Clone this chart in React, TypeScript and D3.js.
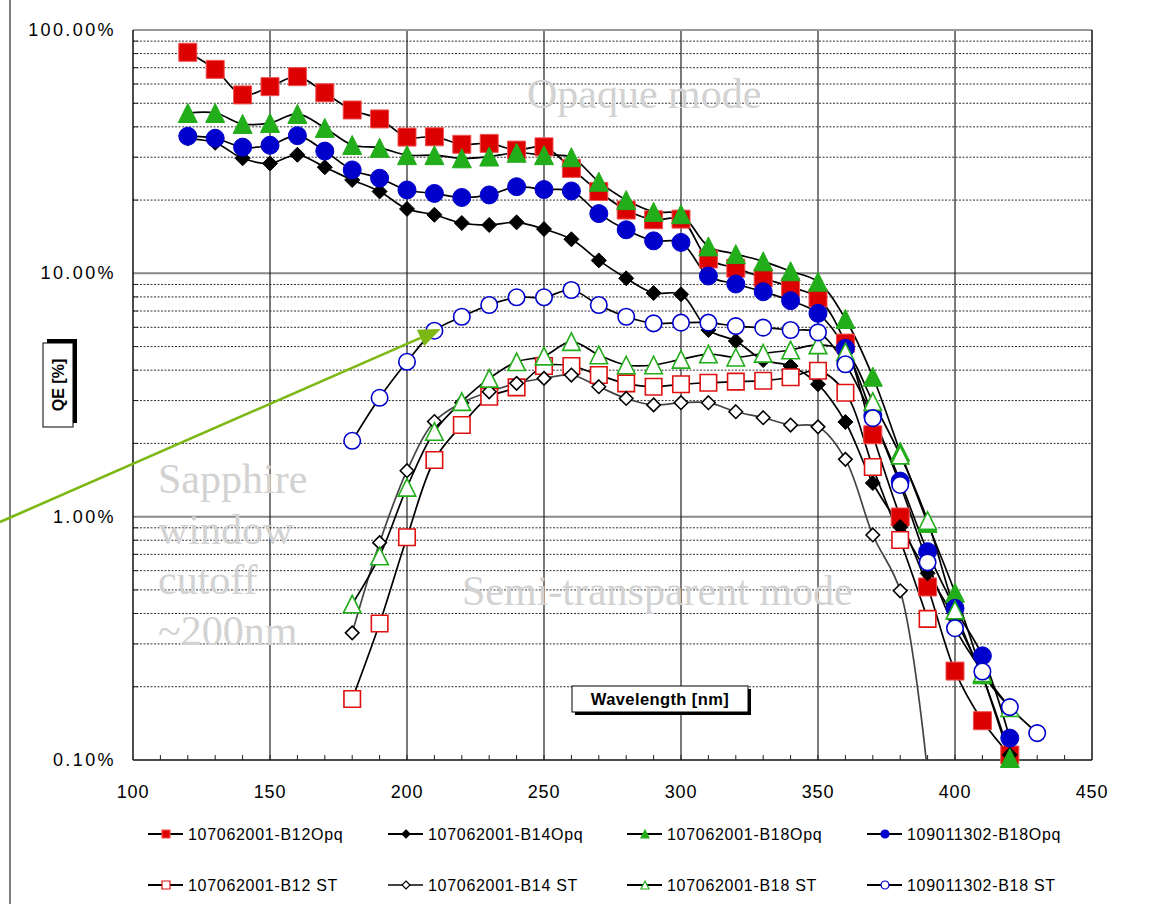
import { useEffect } from "react";
import * as d3 from "d3";

// wavelengths (nm) per series
const opqWl = [120, 130, 140, 150, 160, 170, 180, 190, 200, 210, 220, 230, 240, 250, 260, 270, 280, 290, 300, 310, 320, 330, 340, 350, 360, 370, 380, 390, 400, 410, 420];
const stWl390 = [180, 190, 200, 210, 220, 230, 240, 250, 260, 270, 280, 290, 300, 310, 320, 330, 340, 350, 360, 370, 380, 390];
const stWl420 = [180, 190, 200, 210, 220, 230, 240, 250, 260, 270, 280, 290, 300, 310, 320, 330, 340, 350, 360, 370, 380, 390, 400, 410, 420];
const stWl430 = [180, 190, 200, 210, 220, 230, 240, 250, 260, 270, 280, 290, 300, 310, 320, 330, 340, 350, 360, 370, 380, 390, 400, 410, 420, 430];

// QE values in %
const b12Opq = [81.0, 68.9, 54.1, 58.5, 64.3, 55.2, 46.9, 43.1, 36.3, 36.4, 33.9, 34.2, 32.1, 33.1, 27.0, 21.7, 18.2, 16.6, 16.7, 11.45, 10.5, 9.57, 8.78, 7.92, 5.17, 2.17, 0.997, 0.514, 0.232, 0.145, 0.1048];
const b14Opq = [35.8, 34.4, 29.7, 28.3, 30.7, 27.3, 24.2, 21.7, 18.4, 17.4, 16.1, 15.8, 16.2, 15.2, 13.8, 11.3, 9.54, 8.3, 8.2, 5.85, 5.27, 4.4, 4.16, 3.5, 2.45, 1.375, 0.907, 0.585, 0.38, 0.22, 0.105];
const b18Opq = [45.6, 45.6, 41.1, 41.5, 45.2, 39.6, 33.7, 32.8, 30.6, 30.6, 29.7, 30.2, 31.3, 30.6, 30.0, 23.8, 20.0, 17.9, 17.5, 12.9, 12.0, 11.2, 10.2, 9.24, 6.49, 3.76, 1.85, 0.942, 0.487, 0.225, 0.1019];
const b18Opq109 = [36.6, 35.9, 33.0, 33.6, 36.8, 31.8, 26.6, 24.6, 22.0, 21.3, 20.5, 21.0, 22.7, 22.1, 21.8, 17.6, 15.1, 13.6, 13.4, 9.75, 9.04, 8.4, 7.72, 6.85, 4.92, 2.6, 1.4, 0.718, 0.42, 0.268, 0.123];
const b12St = [0.178, 0.364, 0.823, 1.71, 2.38, 3.11, 3.4, 4.16, 4.16, 3.82, 3.53, 3.42, 3.5, 3.55, 3.59, 3.62, 3.74, 3.98, 3.23, 1.6, 0.802, 0.38];
const b14St = [0.333, 0.782, 1.545, 2.46, 2.94, 3.26, 3.53, 3.7, 3.82, 3.42, 3.06, 2.88, 2.94, 2.94, 2.7, 2.55, 2.38, 2.34, 1.72, 0.841, 0.496, 0.088];
const b18St = [0.4375, 0.689, 1.32, 2.24, 2.97, 3.7, 4.33, 4.57, 5.24, 4.62, 4.2, 4.2, 4.43, 4.66, 4.52, 4.69, 4.84, 5.08, 4.75, 2.97, 1.79, 0.963, 0.413, 0.228, 0.164];
const b18St109 = [2.05, 3.08, 4.33, 5.81, 6.63, 7.41, 7.97, 7.97, 8.54, 7.41, 6.63, 6.23, 6.27, 6.27, 6.07, 5.98, 5.85, 5.72, 4.23, 2.54, 1.35, 0.649, 0.348, 0.231, 0.165, 0.129];

const xTicks = [100, 150, 200, 250, 300, 350, 400, 450];
const yTicks = [0.1, 1, 10, 100];
const yTickLabels = ["0.10%", "1.00%", "10.00%", "100.00%"];

type Shape = "square" | "diamond" | "triangle" | "circle";

const RED = "#dd0000";
const GREEN = "#22ad1a";
const BLUE = "#0000cc";

const series = [
  { name: "107062001-B12Opq", wl: opqWl, v: b12Opq, shape: "square" as Shape, fill: RED, stroke: "#f05050", line: "#000" },
  { name: "107062001-B14Opq", wl: opqWl, v: b14Opq, shape: "diamond" as Shape, fill: "#000", stroke: "#000", line: "#000" },
  { name: "107062001-B18Opq", wl: opqWl, v: b18Opq, shape: "triangle" as Shape, fill: GREEN, stroke: GREEN, line: "#000" },
  { name: "109011302-B18Opq", wl: opqWl, v: b18Opq109, shape: "circle" as Shape, fill: BLUE, stroke: BLUE, line: "#000" },
  { name: "107062001-B12 ST", wl: stWl390, v: b12St, shape: "square" as Shape, fill: "#fff", stroke: "#e01010", line: "#000" },
  { name: "107062001-B14 ST", wl: stWl390, v: b14St, shape: "diamond" as Shape, fill: "#fff", stroke: "#000", line: "#444" },
  { name: "107062001-B18 ST", wl: stWl420, v: b18St, shape: "triangle" as Shape, fill: "#fff", stroke: GREEN, line: "#000" },
  { name: "109011302-B18 ST", wl: stWl430, v: b18St109, shape: "circle" as Shape, fill: "#fff", stroke: BLUE, line: "#000" },
];

function markerPath(shape: Shape, s: number): string {
  const h = s / 2;
  if (shape === "square") return `M${-h},${-h}H${h}V${h}H${-h}Z`;
  if (shape === "diamond") return `M0,${-h}L${h},0L0,${h}L${-h},0Z`;
  if (shape === "triangle") return `M0,${-h}L${h},${h}L${-h},${h}Z`;
  const p = d3.path();
  p.arc(0, 0, h, 0, Math.PI * 2);
  p.closePath();
  return p.toString();
}

const SIZE: Record<Shape, number> = { square: 18, diamond: 15, triangle: 19, circle: 18 };

const W = 1153;
const H = 904;
const L = 133, R = 1092, T = 30, B = 760;

export default function App() {
  useEffect(() => {
    document.body.style.margin = "0";
  }, []);

  const x = d3.scaleLinear().domain([100, 450]).range([L, R]);
  const y = d3.scaleLog().domain([0.1, 100]).range([B, T]);

  const minorY = y.ticks().filter((t) => !yTicks.some((m) => Math.abs(m - t) < 1e-9));
  const minorX = x.ticks(35).filter((t) => t > 100 && t < 450);

  const line = d3
    .line<[number, number]>()
    .x((d) => x(d[0]))
    .y((d) => y(d[1]))
    .curve(d3.curveCatmullRom.alpha(0.5));

  const serif = "'Liberation Serif', 'Times New Roman', serif";
  const sans = "'Liberation Sans', Arial, sans-serif";
  const noteColor = "#d2d2d2";

  // arrow pointing to the ST curve near 210 nm
  const tipX = x(212.3);
  const tipY = y(5.9);
  const sx = 0, sy = 522;
  const ang = Math.atan2(tipY - sy, tipX - sx);
  const ah = 22, aw = 9;
  const bx = tipX - ah * Math.cos(ang), by = tipY - ah * Math.sin(ang);
  const head = `M${tipX},${tipY}L${bx + aw * Math.sin(ang)},${by - aw * Math.cos(ang)}L${bx - aw * Math.sin(ang)},${by + aw * Math.cos(ang)}Z`;

  const legCols = [148, 388, 627, 867];
  const legRows = [834, 885];

  return (
    <svg width={W} height={H} style={{ display: "block", background: "#fff" }}>
      <defs>
        <clipPath id="plot">
          <rect x={L} y={T} width={R - L} height={B - T} />
        </clipPath>
      </defs>

      {/* frame line at the far left */}
      <line x1={10} x2={10} y1={0} y2={H} stroke="#555" strokeWidth={1.5} />

      {/* minor horizontal grid */}
      {minorY.map((t) => (
        <line key={"my" + t} x1={L} x2={R} y1={y(t)} y2={y(t)} stroke="#333" strokeWidth={1} strokeDasharray="2,1.5" />
      ))}
      {/* major horizontal grid */}
      {[1, 10].map((t) => (
        <line key={"My" + t} x1={L} x2={R} y1={y(t)} y2={y(t)} stroke="#888" strokeWidth={2} />
      ))}
      {/* vertical grid */}
      {xTicks.slice(1, -1).map((t) => (
        <line key={"vx" + t} x1={x(t)} x2={x(t)} y1={T} y2={B} stroke="#222" strokeWidth={1.2} />
      ))}
      {/* plot border */}
      <line x1={L} x2={R} y1={T} y2={T} stroke="#999" strokeWidth={2} />
      <line x1={R} x2={R} y1={T} y2={B} stroke="#111" strokeWidth={1.5} />
      <line x1={L} x2={L} y1={T} y2={B} stroke="#111" strokeWidth={1.5} />
      <line x1={L} x2={R} y1={B} y2={B} stroke="#111" strokeWidth={1.5} />
      {minorX.map((t) => (
        <line key={"tx" + t} x1={x(t)} x2={x(t)} y1={B} y2={B - 5} stroke="#222" strokeWidth={1} />
      ))}
      {minorY.map((t) => (
        <line key={"ty" + t} x1={L} x2={L + 5} y1={y(t)} y2={y(t)} stroke="#222" strokeWidth={1} />
      ))}

      {/* annotations */}
      <text x={527} y={108} fontFamily={serif} fontSize={42} fill={noteColor}>Opaque mode</text>
      <text x={462} y={605} fontFamily={serif} fontSize={42} fill={noteColor}>Semi-transparent mode</text>
      {["Sapphire", "window", "cutoff", "~200nm"].map((s, i) => (
        <text key={s} x={158} y={493 + i * 50.5} fontFamily={serif} fontSize={42} fill={noteColor}>{s}</text>
      ))}

      {/* series lines */}
      <g clipPath="url(#plot)" fill="none">
        {series.map((s) => (
          <path
            key={"l" + s.name}
            d={line(s.wl.map((w, i) => [w, s.v[i]] as [number, number])) ?? ""}
            stroke={s.line}
            strokeWidth={1.7}
          />
        ))}
      </g>

      {/* markers */}
      {series.map((s) => (
        <g key={"m" + s.name}>
          {s.wl.map((w, i) =>
            s.v[i] < 0.1 ? null : (
              <path
                key={w}
                transform={`translate(${x(w)},${y(s.v[i])})`}
                d={markerPath(s.shape, s.fill === "#fff" ? SIZE[s.shape] - 1.5 : SIZE[s.shape])}
                fill={s.fill}
                stroke={s.stroke}
                strokeWidth={s.fill === "#fff" ? 1.6 : 1}
              />
            )
          )}
        </g>
      ))}

      {/* arrow */}
      <line x1={sx} y1={sy} x2={bx} y2={by} stroke="#7cb814" strokeWidth={2.6} />
      <path d={head} fill="#7cb814" />

      {/* axis labels */}
      {yTicks.map((t, i) => (
        <text key={"yl" + t} x={116} y={y(t) + 6} textAnchor="end" fontFamily={sans} fontSize={18} letterSpacing={2.4} fill="#000">
          {yTickLabels[i]}
        </text>
      ))}
      {xTicks.map((t) => (
        <text key={"xl" + t} x={x(t)} y={798} textAnchor="middle" fontFamily={sans} fontSize={18} letterSpacing={0.8} fill="#000">
          {t}
        </text>
      ))}

      {/* x axis title */}
      <rect x={575} y={689} width={176} height={26} fill="#000" />
      <rect x={572} y={686} width={176} height={26} fill="#fff" stroke="#000" strokeWidth={1} />
      <text x={660} y={705} textAnchor="middle" fontFamily={sans} fontSize={16.5} fontWeight="bold" letterSpacing={0.4}>
        Wavelength [nm]
      </text>

      {/* y axis title */}
      <g transform="translate(58,385) rotate(-90)">
        <rect x={-42 + 4} y={-15 + 4} width={84} height={30} fill="#000" />
        <rect x={-42} y={-15} width={84} height={30} fill="#fff" stroke="#000" strokeWidth={1} />
        <text x={0} y={6} textAnchor="middle" fontFamily={sans} fontSize={16} fontWeight="bold">QE [%]</text>
      </g>

      {/* legend */}
      {series.map((s, i) => {
        const cx = legCols[i % 4];
        const cy = legRows[Math.floor(i / 4)];
        return (
          <g key={"lg" + s.name}>
            <line x1={cx} x2={cx + 35} y1={cy} y2={cy} stroke={s.line} strokeWidth={1.8} />
            <path
              transform={`translate(${cx + 18},${cy})`}
              d={markerPath(s.shape, 8)}
              fill={s.fill}
              stroke={s.stroke}
              strokeWidth={1.2}
            />
            <text x={cx + 40} y={cy + 6} fontFamily={sans} fontSize={16} letterSpacing={0.7} fill="#000">
              {s.name}
            </text>
          </g>
        );
      })}
    </svg>
  );
}
